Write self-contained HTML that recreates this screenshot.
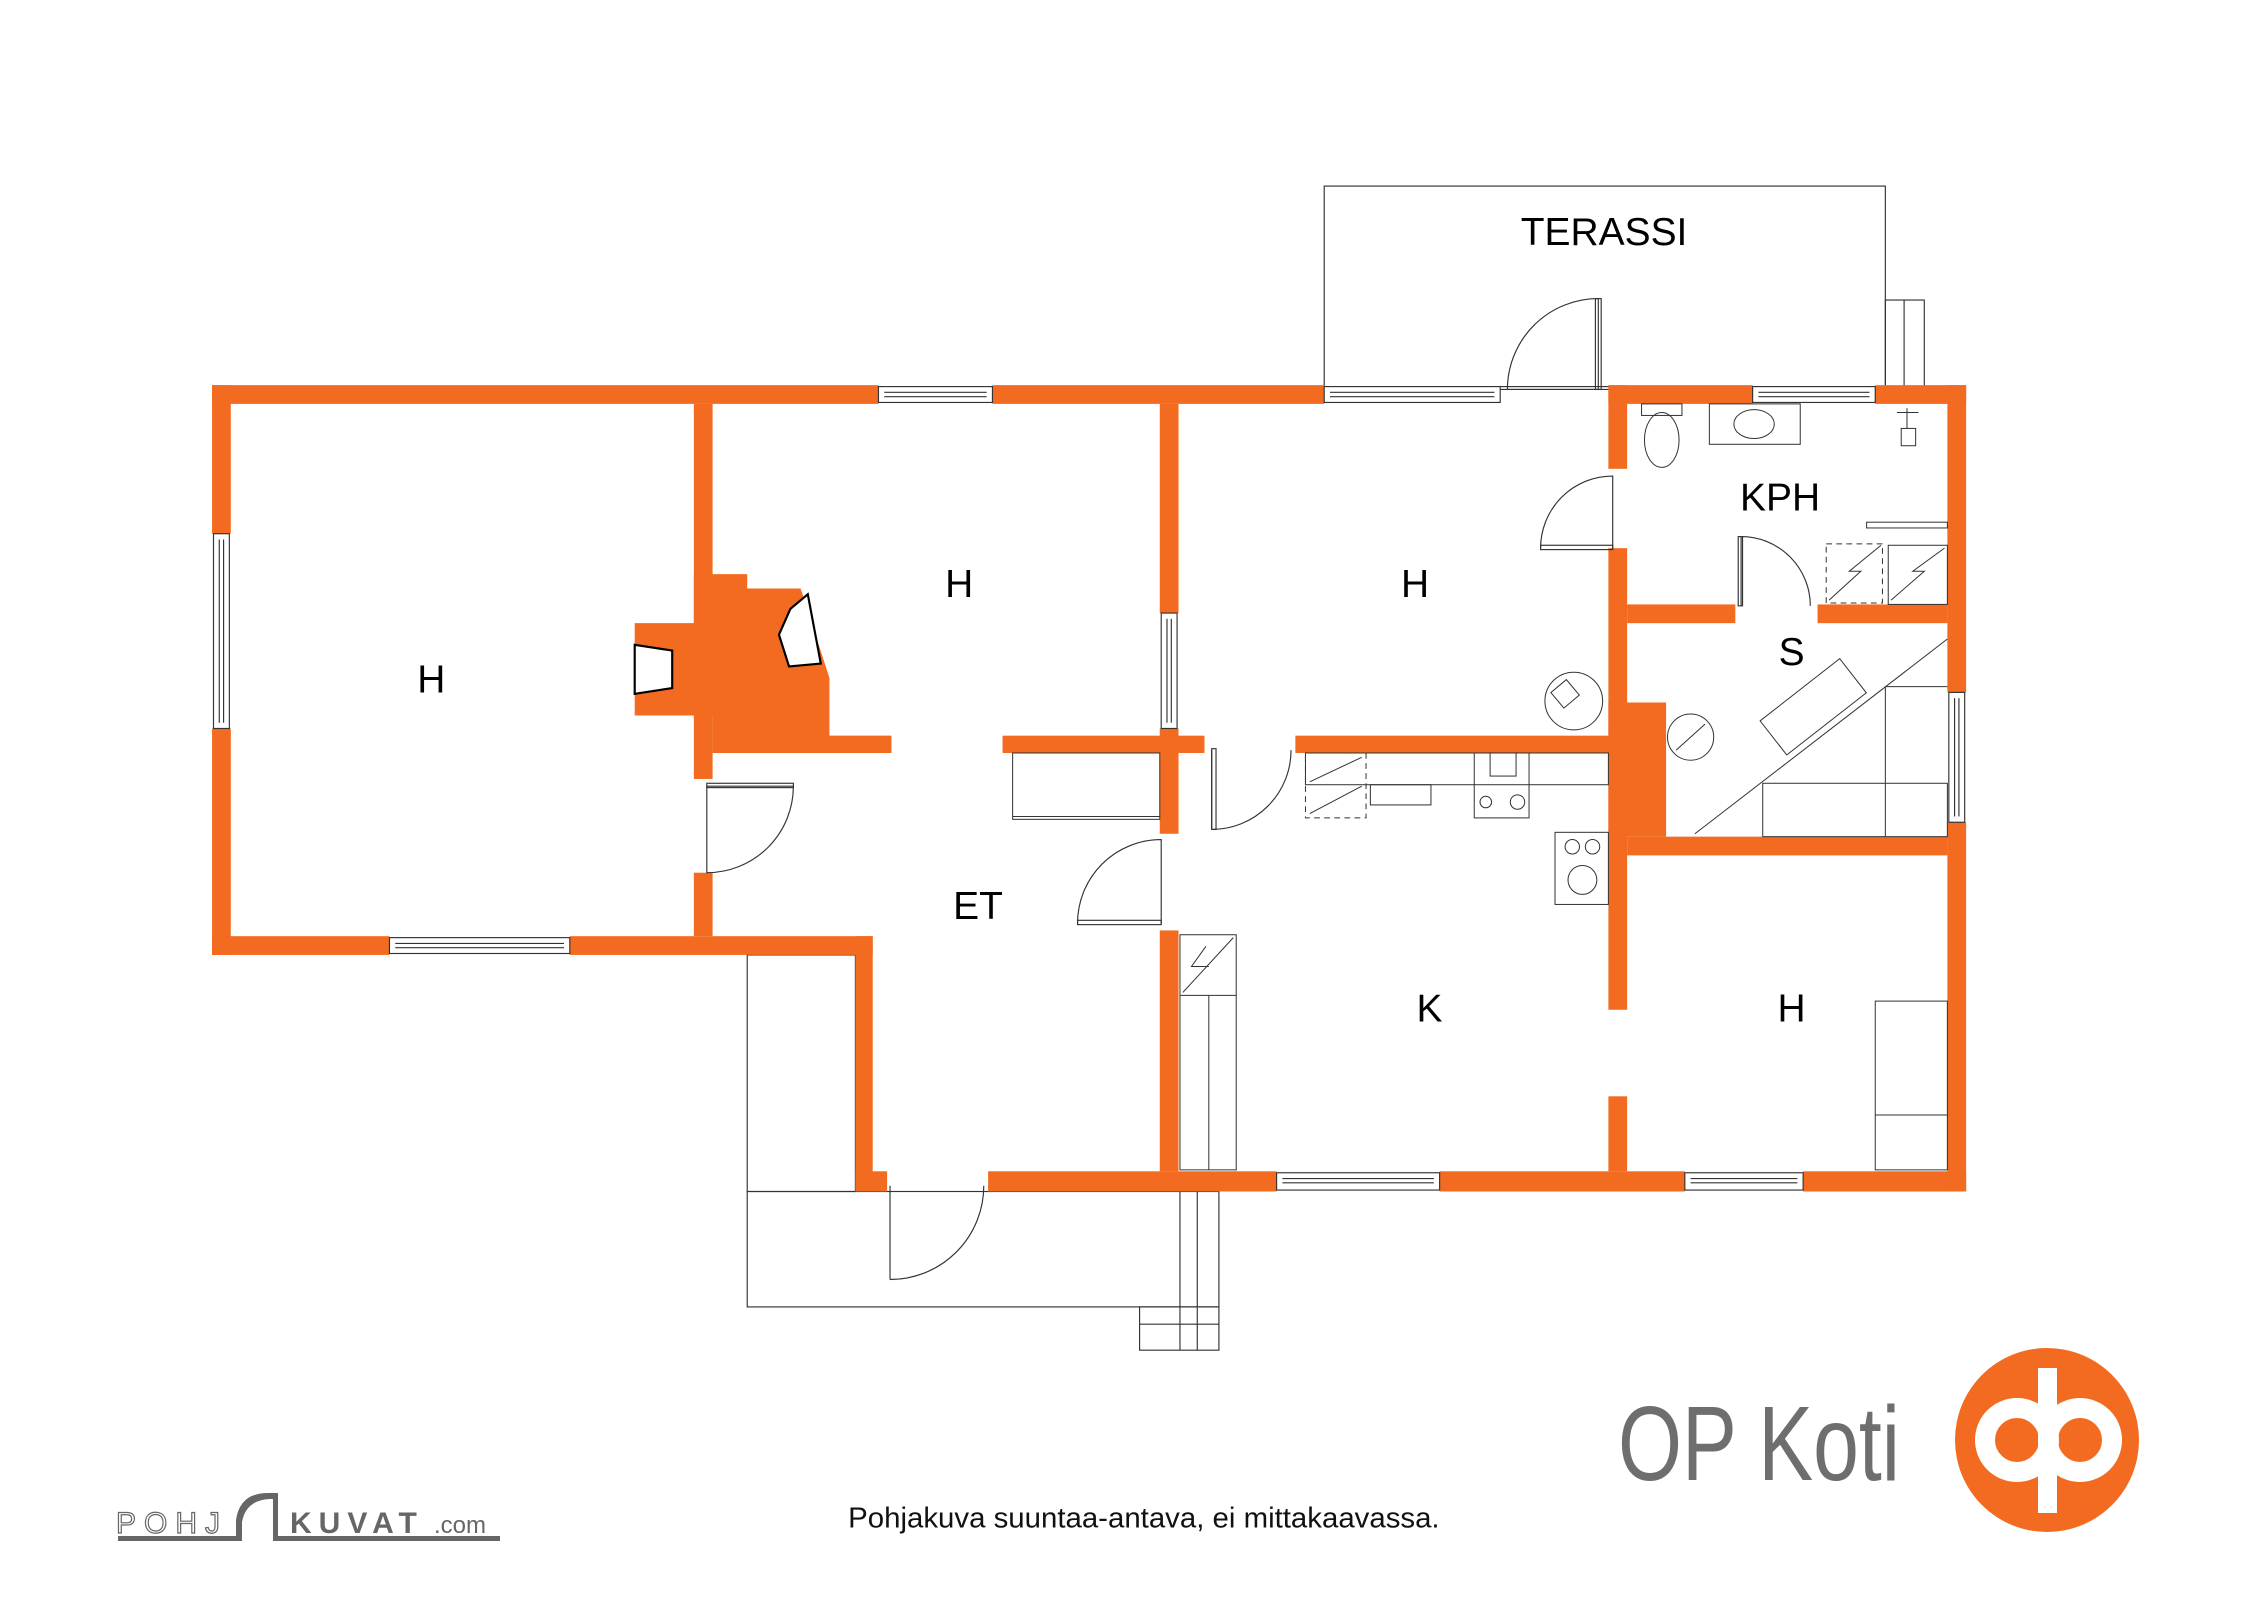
<!DOCTYPE html>
<html><head><meta charset="utf-8"><style>
html,body{margin:0;padding:0;background:#fff;}
svg{display:block;}
text{font-family:"Liberation Sans",sans-serif;}
</style></head><body>
<svg width="2262" height="1600" viewBox="0 0 2262 1600" xmlns="http://www.w3.org/2000/svg">
<rect width="2262" height="1600" fill="#fff"/>
<g transform="scale(1.4425)">
<g fill="none" stroke="#333" stroke-width="0.8">
<rect x="918" y="129" width="389" height="139"/>
<rect x="1307" y="208" width="27" height="60"/><line x1="1320" y1="208" x2="1320" y2="268"/>
<rect x="518" y="662" width="75" height="164"/>
<rect x="518" y="826" width="327" height="80"/>
<rect x="790" y="906" width="55" height="30"/>
<line x1="790" y1="918" x2="845" y2="918"/>
<line x1="818" y1="826" x2="818" y2="936"/><line x1="830" y1="826" x2="830" y2="936"/>
</g>
<g fill="#f26b21">
<rect x="147" y="267" width="462" height="13"/>
<rect x="688" y="267" width="230" height="13"/>
<rect x="1115" y="267" width="100" height="13"/>
<rect x="1300" y="267" width="63" height="13"/>
<rect x="147" y="267" width="13" height="103"/>
<rect x="147" y="505" width="13" height="157"/>
<rect x="147" y="649" width="123" height="13"/>
<rect x="395" y="649" width="210" height="13"/>
<rect x="593" y="649" width="12" height="177"/>
<rect x="593" y="812" width="22" height="14"/>
<rect x="685" y="812" width="200" height="14"/>
<rect x="998" y="812" width="170" height="14"/>
<rect x="1250" y="812" width="113" height="14"/>
<rect x="1350" y="267" width="13" height="213"/>
<rect x="1350" y="570" width="13" height="256"/>
<rect x="481" y="280" width="13" height="260"/>
<rect x="481" y="605" width="13" height="44"/>
<polygon points="481,398 518,398 518,408 555,408 575,470 575,510 618,510 618,522 494,522 494,496 440,496 440,432 481,432"/>
<rect x="804" y="280" width="13" height="145"/>
<rect x="804" y="505" width="13" height="73"/>
<rect x="804" y="645" width="13" height="167"/>
<rect x="695" y="510" width="140" height="12"/>
<rect x="898" y="510" width="230" height="12"/>
<rect x="1115" y="267" width="13" height="58"/>
<rect x="1115" y="380" width="13" height="320"/>
<rect x="1115" y="760" width="13" height="52"/>
<rect x="1115" y="487" width="40" height="93"/>
<rect x="1128" y="419" width="75" height="13"/>
<rect x="1260" y="419" width="90" height="13"/>
<rect x="1128" y="580" width="222" height="13"/>
</g>
<g fill="#fff" stroke="#000" stroke-width="1.5">
<polygon points="440,447 466,451 466,477 440,481"/>
<polygon points="548,422 540,440 547,462 569,460 560,412"/>
</g>
<g fill="#fff" stroke="#333" stroke-width="0.8">
<rect x="609" y="268" width="79" height="11"/><line x1="613" y1="272" x2="684" y2="272"/><line x1="613" y1="275" x2="684" y2="275"/>
<rect x="918" y="268" width="122" height="11"/><line x1="922" y1="272" x2="1036" y2="272"/><line x1="922" y1="275" x2="1036" y2="275"/>
<rect x="1215" y="268" width="85" height="11"/><line x1="1219" y1="272" x2="1296" y2="272"/><line x1="1219" y1="275" x2="1296" y2="275"/>
<rect x="148" y="370" width="11" height="135"/><line x1="152" y1="374" x2="152" y2="501"/><line x1="155" y1="374" x2="155" y2="501"/>
<rect x="270" y="650" width="125" height="11"/><line x1="274" y1="654" x2="391" y2="654"/><line x1="274" y1="657" x2="391" y2="657"/>
<rect x="805" y="425" width="11" height="80"/><line x1="809" y1="429" x2="809" y2="501"/><line x1="812" y1="429" x2="812" y2="501"/>
<rect x="885" y="813" width="113" height="12"/><line x1="889" y1="817" x2="994" y2="817"/><line x1="889" y1="820" x2="994" y2="820"/>
<rect x="1168" y="813" width="82" height="12"/><line x1="1172" y1="817" x2="1246" y2="817"/><line x1="1172" y1="820" x2="1246" y2="820"/>
<rect x="1351" y="480" width="11" height="90"/><line x1="1355" y1="484" x2="1355" y2="566"/><line x1="1358" y1="484" x2="1358" y2="566"/>
</g>
<g fill="none" stroke="#333" stroke-width="0.8">
<path d="M1045,270 A63,63 0 0 1 1108,207 L1108,270 Z" /><rect x="1106" y="207" width="4" height="63"/>
<line x1="1040" y1="270" x2="1115" y2="270"/>
<path d="M490,605 A60,60 0 0 0 550,545 L490,545 Z"/><rect x="490" y="543" width="60" height="3"/>
<path d="M840,575 A55,55 0 0 0 895,520 M840,520 L840,575"/><rect x="840" y="519" width="3" height="56"/>
<path d="M747,640 A58,58 0 0 1 805,582 L805,640"/><rect x="747" y="638" width="58" height="3"/>
<path d="M617,887 A65,65 0 0 0 682,822 M617,822 L617,887"/>
<path d="M1068,380 A50,50 0 0 1 1118,330 L1118,380"/><rect x="1068" y="378" width="50" height="3"/>
<path d="M1255,420 A48,48 0 0 0 1207,372 L1207,420"/><rect x="1205" y="372" width="3" height="48"/>
</g>
<g fill="none" stroke="#333" stroke-width="0.7">
<rect x="702" y="522" width="102" height="46"/><line x1="702" y1="566" x2="804" y2="566"/>
<rect x="905" y="522" width="210" height="22"/>
<rect x="905" y="522" width="42" height="45" stroke-dasharray="4,3"/><line x1="908" y1="542" x2="944" y2="525"/><line x1="908" y1="564" x2="944" y2="545"/>
<rect x="950" y="544" width="42" height="14"/>
<rect x="1022" y="522" width="38" height="45"/><rect x="1033" y="522" width="18" height="16"/>
<circle cx="1030" cy="556" r="4"/><circle cx="1052" cy="556" r="5"/>
<rect x="1078" y="577" width="37" height="50"/><circle cx="1090" cy="587" r="5"/><circle cx="1104" cy="587" r="5"/><circle cx="1097" cy="610" r="10"/>
<rect x="818" y="648" width="39" height="163"/><line x1="818" y1="690" x2="857" y2="690"/><line x1="838" y1="690" x2="838" y2="811"/><path d="M820,688 L855,650 M838,670 l-12,0 l10,-14"/>
<rect x="1300" y="694" width="50" height="117"/><line x1="1300" y1="773" x2="1350" y2="773"/>
<circle cx="1091" cy="486" r="20"/><rect x="1078" y="474" width="14" height="14" transform="rotate(-40 1085 481)"/>
<circle cx="1172" cy="511" r="16"/><line x1="1162" y1="520" x2="1182" y2="502"/>
<line x1="1175" y1="578" x2="1350" y2="443"/>
<rect x="1222" y="475" width="70" height="30" transform="rotate(-38 1257 490)"/>
<rect x="1222" y="543" width="128" height="37"/><line x1="1307" y1="476" x2="1307" y2="580"/><line x1="1307" y1="476" x2="1350" y2="476"/>
<rect x="1138" y="280" width="28" height="8"/><ellipse cx="1152" cy="305" rx="12" ry="19"/>
<rect x="1185" y="280" width="63" height="28"/><ellipse cx="1216" cy="294" rx="14" ry="10"/>
<rect x="1318" y="297" width="10" height="12"/><line x1="1322" y1="283" x2="1322" y2="297"/><line x1="1315" y1="286" x2="1330" y2="286"/>
<rect x="1294" y="362" width="56" height="4"/>
<rect x="1266" y="377" width="39" height="41" stroke-dasharray="4,3"/><rect x="1309" y="378" width="41" height="41"/>
<path d="M1268,416 L1290,396 L1282,396 L1304,378 M1311,416 L1334,396 L1326,396 L1348,380"/>
</g>
<g fill="#000" font-size="27" text-anchor="middle">
<text x="1112" y="170">TERASSI</text>
<text x="299" y="480">H</text>
<text x="665" y="414">H</text>
<text x="981" y="414">H</text>
<text x="1234" y="354">KPH</text>
<text x="1242" y="461">S</text>
<text x="678" y="637">ET</text>
<text x="991" y="708">K</text>
<text x="1242" y="708">H</text>
</g>
<text x="793" y="1059" font-size="20" text-anchor="middle" fill="#111" textLength="410" lengthAdjust="spacingAndGlyphs">Pohjakuva suuntaa-antava, ei mittakaavassa.</text>
</g>
<text x="1618" y="1480" font-size="106" fill="#6d6e70" textLength="282" lengthAdjust="spacingAndGlyphs">OP Koti</text>
<circle cx="2047" cy="1440" r="92" fill="#f26b21"/>
<circle cx="2017" cy="1440" r="32" fill="none" stroke="#fff" stroke-width="20"/>
<circle cx="2080" cy="1440" r="32" fill="none" stroke="#fff" stroke-width="20"/>
<rect x="2038" y="1368" width="19" height="145" fill="#fff"/>
<g fill="#666">
<text x="116" y="1533" font-size="30" fill="#fff" stroke="#666" stroke-width="1.2" letter-spacing="8">POHJ</text>
<text x="290" y="1533" font-size="30" font-weight="bold" letter-spacing="7">KUVAT</text>
<text x="434" y="1533" font-size="24">.com</text>
<path d="M118,1536 L236,1536 L236,1520 Q240,1492 270,1493 L278,1493 L278,1536 L500,1536 L500,1541 L273,1541 L273,1499 L270,1499 Q246,1500 242,1522 L242,1541 L118,1541 Z"/>
</g>
</svg>
</body></html>
